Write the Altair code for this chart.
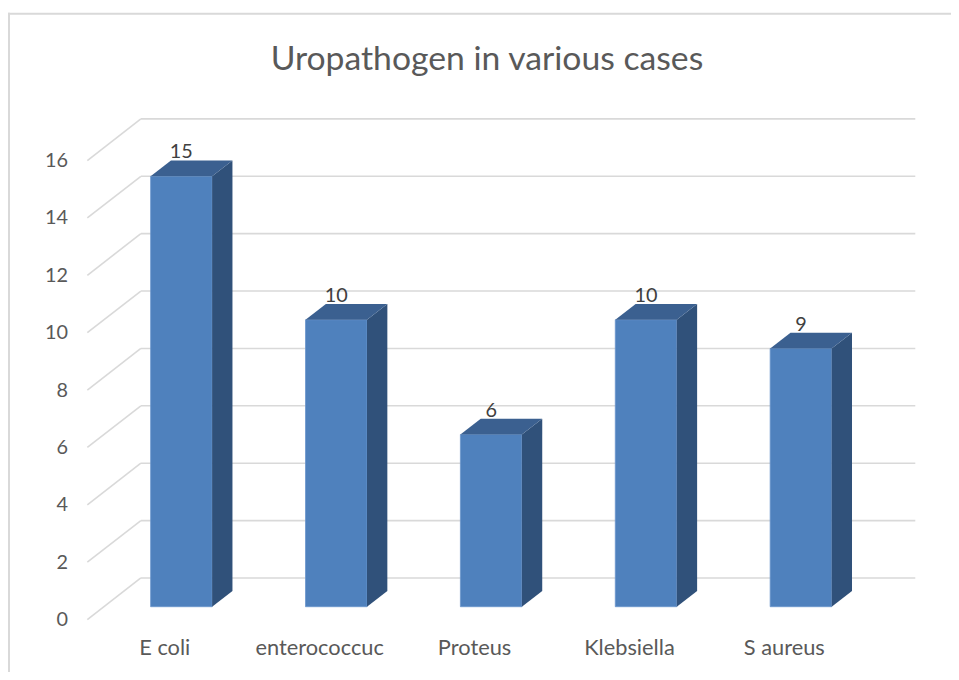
import altair as alt
import pandas as pd

# ---- data ----
categories = ["E coli", "enterococcuc", "Proteus", "Klebsiella", "S aureus"]
values = [15, 10, 6, 10, 9]
y_ticks = [0, 2, 4, 6, 8, 10, 12, 14, 16]
title_text = "Uropathogen in various cases"

# ---- 3D geometry (data units) ----
N = len(categories)
DX = 0.3457   # full depth, x units
DY = 1.4513   # full depth, y units
A = 0.31      # bar front depth fraction
B = 0.69      # bar back depth fraction
W = 0.397     # bar width (category units)
ddx = (B - A) * DX
ddy = (B - A) * DY
YMAX = 16 + DY
XMAX = N + DX

FONT = "Lato"
TXT = "#595959"
GRID = "#d9d9d9"
FRONT = "#4f81bd"
SIDE = "#30517a"
TOP = "#3b6090"

# tables derived from the arrays above
bars = pd.DataFrame({"cat": categories, "idx": list(range(N)), "value": values})
bars["xl"] = bars["idx"] + 0.5 + A * DX - W / 2
bars["xr"] = bars["xl"] + W
bars["yb"] = A * DY
bars["yt"] = bars["value"] + A * DY
bars["lx"] = bars["idx"] + 0.5 + A * DX
bars["ly"] = bars["value"] + B * DY
bars["cx"] = bars["idx"] + 0.5
bars["cy"] = 0.0

ticks = pd.DataFrame({"v": y_ticks})
ticks["vb"] = ticks["v"] + DY
ticks["x0"] = 0.0
ticks["xb"] = DX
ticks["xe"] = N + DX

side_rows = []
top_rows = []
for c, xl, xr, yb, ytop in zip(bars["cat"], bars["xl"], bars["xr"], bars["yb"], bars["yt"]):
    side_rows.append({"cat": c, "px": xr, "py": yb, "py2": ytop})
    side_rows.append({"cat": c, "px": xr + ddx, "py": yb + ddy, "py2": ytop + ddy})
    top_rows.append({"cat": c, "px": xl, "py": ytop, "py2": ytop})
    top_rows.append({"cat": c, "px": xl + ddx, "py": ytop, "py2": ytop + ddy})
    top_rows.append({"cat": c, "px": xr, "py": ytop, "py2": ytop + ddy})
    top_rows.append({"cat": c, "px": xr + ddx, "py": ytop + ddy, "py2": ytop + ddy})
side_df = pd.DataFrame(side_rows)
top_df = pd.DataFrame(top_rows)
frame_df = pd.DataFrame({"title": [title_text]})

xs = alt.Scale(domain=[0, XMAX], nice=False, zero=False)
ys = alt.Scale(domain=[0, YMAX], nice=False, zero=False)
yax = alt.Axis(values=y_ticks, domain=False, ticks=False, grid=False, labelPadding=20,
               labelFont=FONT, labelFontSize=20, labelColor=TXT, title=None)

# back wall gridlines
back = alt.Chart(ticks).mark_rule(color=GRID, strokeWidth=1.6).encode(
    x=alt.X("xb:Q", scale=xs, axis=None),
    x2="xe:Q",
    y=alt.Y("vb:Q", scale=ys, axis=yax),
)

# side wall diagonals
side_wall = alt.Chart(ticks).mark_rule(color=GRID, strokeWidth=1.6).encode(
    x=alt.X("x0:Q", axis=None),
    x2="xb:Q",
    y=alt.Y("v:Q", axis=yax),
    y2="vb:Q",
)

# front faces
front = alt.Chart(bars).mark_rect(color=FRONT, stroke="#6a95cc", strokeWidth=0.8).encode(
    x=alt.X("xl:Q", axis=None), x2="xr:Q",
    y=alt.Y("yb:Q", axis=yax), y2="yt:Q",
)

# side faces
side = alt.Chart(side_df).mark_area(color=SIDE).encode(
    x=alt.X("px:Q", axis=None), y=alt.Y("py:Q", axis=yax), y2="py2:Q",
    detail="cat:N",
)

# top faces
top = alt.Chart(top_df).mark_area(color=TOP).encode(
    x=alt.X("px:Q", axis=None), y=alt.Y("py:Q", axis=yax), y2="py2:Q",
    detail="cat:N",
)

# data labels
labels = alt.Chart(bars).mark_text(font=FONT, fontSize=20, color="#404040",
                                   baseline="alphabetic", dy=-2).encode(
    x=alt.X("lx:Q", axis=None), y=alt.Y("ly:Q", axis=yax), text="value:Q",
)

# category labels
cat_labels = alt.Chart(bars).mark_text(font=FONT, fontSize=22, color=TXT,
                                       baseline="alphabetic", dy=36).encode(
    x=alt.X("cx:Q", axis=None), y=alt.Y("cy:Q", axis=yax), text="cat:N",
)

# chart frame (top and left edges)
frame_top = alt.Chart(frame_df).mark_rule(color=GRID, strokeWidth=2).encode(
    x=alt.value(-80), x2=alt.value(3000), y=alt.value(-106)
)
frame_left = alt.Chart(frame_df).mark_rule(color=GRID, strokeWidth=2).encode(
    x=alt.value(-79), y=alt.value(-107), y2=alt.value(3000)
)

# chart title
title = alt.Chart(frame_df).mark_text(font=FONT, fontSize=34, color=TXT, align="center",
                                      baseline="alphabetic").encode(
    x=alt.value(403), y=alt.value(-49), text="title:N"
)

chart = alt.layer(
    frame_top, frame_left, back, side_wall, front, side, top, labels, cat_labels, title
).properties(
    width=835, height=505,
    padding={"left": 80, "top": 109, "right": 36, "bottom": 50},
    autosize=alt.AutoSizeParams(type="none"),
).configure_view(strokeWidth=0)

chart.save("out.html", embed_options={"renderer": "svg", "actions": False})
